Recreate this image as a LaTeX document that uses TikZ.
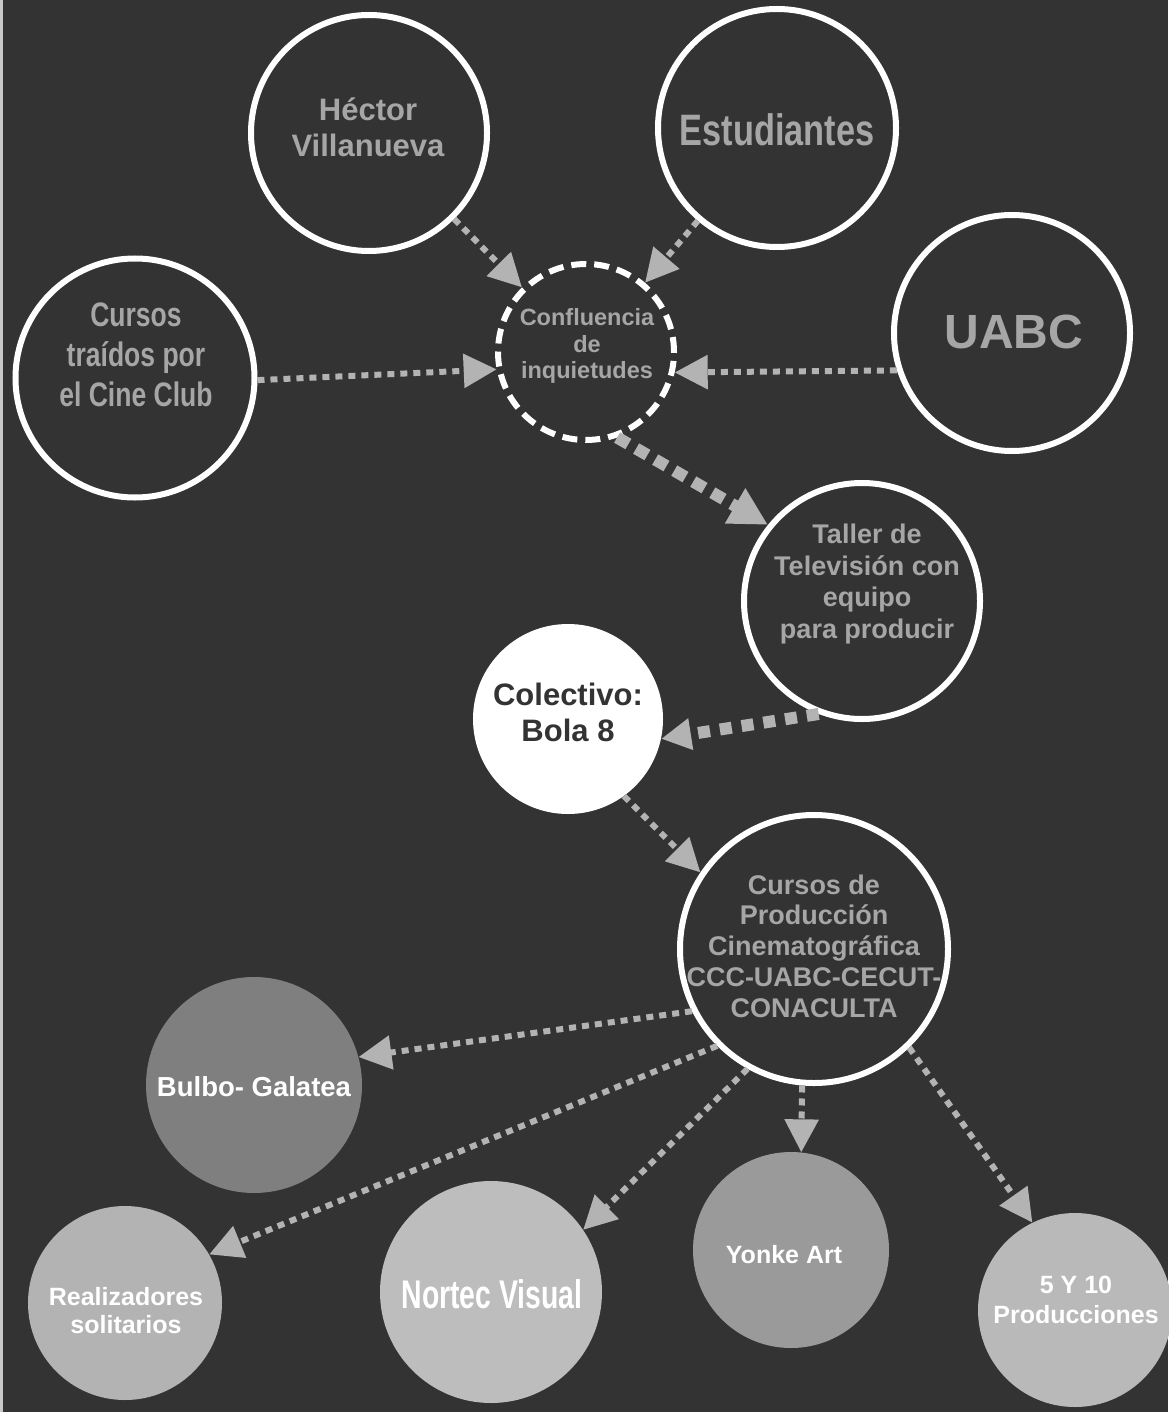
\documentclass[tikz,border=0pt]{standalone}
\usepackage{fontspec}
\setmainfont{Liberation Sans}
\newfontfamily\narrowA[FakeStretch=0.78]{Liberation Sans}
\newfontfamily\narrowB[FakeStretch=0.71]{Liberation Sans}
\usetikzlibrary{arrows.meta}
\definecolor{bg}{HTML}{333333}
\definecolor{txtgray}{HTML}{A6A6A6}
\definecolor{arrowgray}{HTML}{B3B3B3}
\definecolor{edgegray}{HTML}{C8C8C8}
\definecolor{fbulbo}{HTML}{7F7F7F}
\definecolor{frealiz}{HTML}{B3B3B3}
\definecolor{fnortec}{HTML}{BDBDBD}
\definecolor{fyonke}{HTML}{9A9A9A}
\definecolor{fcinco}{HTML}{B9B9B9}
\begin{document}
\begin{tikzpicture}[x=1pt,y=-1pt,
  ring/.style={circle,draw=white,line width=6pt,fill=bg,inner sep=0pt,minimum size=#1},
  dashring/.style={circle,draw=white,line width=6pt,dash pattern=on 15pt off 8pt,fill=bg,inner sep=0pt,minimum size=#1},
  disc/.style 2 args={circle,fill=#1,draw=none,inner sep=0pt,minimum size=#2},
  lbl/.style={align=center,text=txtgray,inner sep=0pt},
  wlbl/.style={align=center,text=white,inner sep=0pt},
  thinarrow/.style={draw=arrowgray,line width=6pt,dash pattern=on 7pt off 6pt,-{Triangle[length=33pt,width=33pt]}},
  thickarrow/.style={draw=arrowgray,line width=12pt,dash pattern=on 13pt off 9pt,-{Triangle[length=38pt,width=38pt]}},
  medarrow/.style={draw=arrowgray,line width=12pt,dash pattern=on 12pt off 10pt,-{Triangle[length=30pt,width=30pt]}},
]
\useasboundingbox (0,0) rectangle (1168,1412);
\fill[bg] (0,0) rectangle (1168,1412);
\draw[edgegray,line width=3pt] (1.5,0) -- (1.5,1412);

% circles
\node[ring=236] (hector) at (369,133) {};
\node[ring=238] (estud) at (777,128) {};
\node[ring=239] (cursos) at (135,378) {};
\node[ring=236] (uabc) at (1012,333) {};
\node[dashring=176] (conf) at (586,352) {};
\node[ring=236] (taller) at (862,601) {};
\node[disc={white}{190}] (colect) at (568,719) {};
\node[ring=268] (cprod) at (814,949) {};
\node[disc={fbulbo}{216}] (bulbo) at (254,1085) {};
\node[disc={frealiz}{194}] (realiz) at (125,1303) {};
\node[disc={fnortec}{222}] (nortec) at (491,1292) {};
\node[disc={fyonke}{196}] (yonke) at (791,1250) {};
\node[disc={fcinco}{194}] (cinco) at (1075,1310) {};

% labels
\node[lbl,font={\bfseries\fontsize{31}{36}\selectfont}] (hectortxt) at (368,127) {Héctor\\Villanueva};
\node[lbl,font={\narrowA\bfseries\fontsize{44}{50}\selectfont}] (estudtxt) at (777,130) {Estudiantes};
\node[lbl,font={\narrowA\bfseries\fontsize{34}{40}\selectfont}] (cursostxt) at (136,355) {Cursos\\traídos por\\el Cine Club};
\node[lbl,font={\bfseries\fontsize{48}{54}\selectfont}] (uabctxt) at (1014,332) {UABC};
\node[lbl,font={\bfseries\fontsize{23.5}{26.5}\selectfont}] (conftxt) at (587,346) {Confluencia\\de\\inquietudes};
\node[lbl,font={\bfseries\fontsize{27}{31.7}\selectfont}] (tallertxt) at (867,584) {Taller de\\Televisión con\\equipo\\para producir};
\node[align=center,text=bg,inner sep=0pt,font={\bfseries\fontsize{31}{36}\selectfont}] (colecttxt) at (568,712) {Colectivo:\\Bola 8};
\node[lbl,font={\bfseries\fontsize{27}{30.75}\selectfont}] (cprodtxt) at (814,946) {Cursos de\\Producción\\Cinematográfica\\CCC-UABC-CECUT-\\CONACULTA};
\node[wlbl,font={\bfseries\fontsize{27.5}{32}\selectfont}] (bulbotxt) at (254,1087) {Bulbo- Galatea};
\node[wlbl,font={\bfseries\fontsize{25}{28}\selectfont}] (realiztxt) at (126,1311) {Realizadores\\solitarios};
\node[wlbl,font={\narrowB\bfseries\fontsize{40}{46}\selectfont}] (nortectxt) at (492,1294) {Nortec Visual};
\node[wlbl,font={\bfseries\fontsize{25}{30}\selectfont}] (yonketxt) at (784,1255) {Yonke Art};
\node[wlbl,font={\bfseries\fontsize{25}{30}\selectfont}] (cincotxt) at (1076,1300) {5 Y 10\\Producciones};

% connectors
\draw[thinarrow] (hector) -- (conf);
\draw[thinarrow] (estud) -- (conf);
\draw[thinarrow] (cursos.-1.5) -- (conf.191);
\draw[thinarrow] (uabc.198) -- (conf.-13);
\draw[thickarrow] (conf.-70) -- (taller.141);
\draw[medarrow] (taller.-111) -- (colect.-12);
\draw[thinarrow] (colect.-54) -- (cprod.146);
\draw[thinarrow] (cprod.207) -- (bulbo.15);
\draw[thinarrow] (cprod.225) -- (realiz.30);
\draw[thinarrow] (cprod.241) -- (nortec.34);
\draw[thinarrow] (cprod.-95) -- (yonke.84);
\draw[thinarrow] (cprod.-46) -- (cinco.116);
\end{tikzpicture}
\end{document}
